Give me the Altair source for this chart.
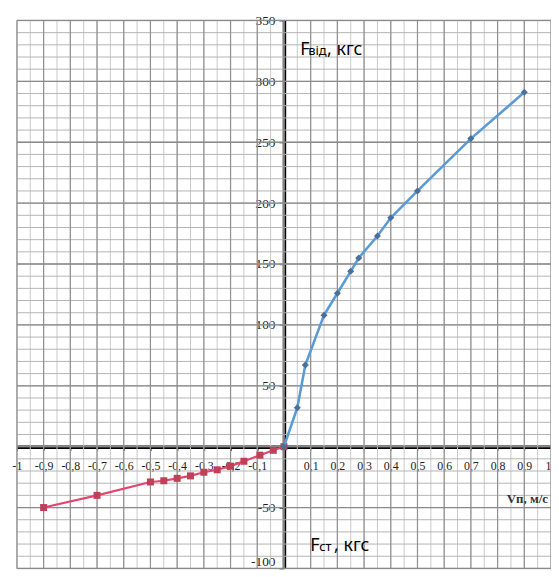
import altair as alt
import pandas as pd

# ---- data ----
blue_x = [0, 0.05, 0.08, 0.15, 0.2, 0.25, 0.28, 0.35, 0.4, 0.5, 0.7, 0.9]
blue_y = [0, 32, 67, 108, 126, 144, 155, 173, 188, 210, 253, 291]
red_x = [-0.9, -0.7, -0.5, -0.45, -0.4, -0.35, -0.3, -0.25, -0.2, -0.15, -0.09, -0.04, 0]
red_y = [-50, -40, -29, -28, -26, -24, -21, -19, -16, -12, -7, -3, 0]

x_ticks = [round(-1 + 0.1 * i, 1) for i in range(21)]
y_ticks = [-100, -50, 0, 50, 100, 150, 200, 250, 300, 350]

W, H = 539, 553
X_DOM = [-1, 1]
Y_DOM = [-100, 350]

xs = alt.Scale(domain=X_DOM, nice=False, zero=False)
ys = alt.Scale(domain=Y_DOM, nice=False, zero=False)

x_axis = alt.Axis(
    values=x_ticks, orient="bottom", offset=-H * 100 / 450, grid=False,
    domainColor="black", domainWidth=3.5, tickColor="#555", tickSize=4,
    labelFont="Liberation Serif", labelFontSize=12, labelColor="#222",
    labelPadding=10, labelFlush=False, labelOverlap=False,
    labelAlign={"condition": {"test": "datum.value >= 1", "value": "right"}, "value": "center"},
    labelExpr="datum.value == 0 ? '' : replace(toString(datum.value), '.', ',')",
    title=None,
)
y_axis = alt.Axis(
    values=y_ticks, orient="left", offset=-W / 2, grid=False,
    domainColor="black", domainWidth=3.5, tickColor="#555", tickSize=5,
    labelFont="Liberation Serif", labelFontSize=13.5, labelColor="#222",
    labelPadding=4, labelFlush=False, labelOverlap=False,
    labelBaseline={"condition": {"test": "datum.value <= -100", "value": "bottom"}, "value": "middle"},
    labelExpr="datum.value == 0 ? '' : toString(datum.value)",
    title=None,
)

X = alt.X("x:Q", scale=xs, axis=x_axis)
Y = alt.Y("y:Q", scale=ys, axis=y_axis)

blue = pd.DataFrame({"x": blue_x, "y": blue_y})
red = pd.DataFrame({"x": red_x, "y": red_y})

# grid lines (layout only)
gx_minor = pd.DataFrame({"x": [round(-1 + 0.05 * i, 2) for i in range(41)]})
gx_major = pd.DataFrame({"x": x_ticks})
gy_minor = pd.DataFrame({"y": list(range(-100, 351, 10))})
gy_major = pd.DataFrame({"y": y_ticks})

grid = alt.layer(
    alt.Chart(gx_minor).mark_rule(color="#c8c8c8", strokeWidth=1).encode(x=X),
    alt.Chart(gy_minor).mark_rule(color="#b4b4b4", strokeWidth=1).encode(y=Y),
    alt.Chart(gx_major).mark_rule(color="#909090", strokeWidth=1.2).encode(x=X),
    alt.Chart(gy_major).mark_rule(color="#8a8a8a", strokeWidth=1.3).encode(y=Y),
)

red_line = alt.Chart(red).mark_line(color="#e8456e", strokeWidth=2.2).encode(x=X, y=Y)
red_pts = alt.Chart(red).mark_point(shape="square", filled=True, color="#c0405a", size=50, opacity=1).encode(x=X, y=Y)
blue_line = alt.Chart(blue).mark_line(color="#5b9bd5", strokeWidth=2.6).encode(x=X, y=Y)
blue_pts = alt.Chart(blue).mark_point(shape="diamond", filled=True, color="#4a6f9a", size=50, opacity=1).encode(x=X, y=Y)

def txt(s, x, y, size, font="Noto Sans", weight="normal", align="left", color="black"):
    return alt.Chart(pd.DataFrame({"t": [s]})).mark_text(
        font=font, fontSize=size, fontWeight=weight, align=align, baseline="alphabetic", color=color
    ).encode(text="t:N", x=alt.value(x), y=alt.value(y))

labels = alt.layer(
    txt("F", 286, 35, 18),
    txt("від", 294, 35, 13),
    txt(", кгс", 313, 35, 18),
    txt("F", 296, 535, 18),
    txt("ст", 305, 535, 13),
    txt(", кгс", 320, 535, 18),
    txt("Vп, м/с", 536, 487, 13, font="Liberation Serif", weight="bold", align="right", color="#333"),
)

chart = alt.layer(grid, red_line, red_pts, blue_line, blue_pts, labels).properties(
    width=W, height=H,
    autosize=alt.AutoSizeParams(type="none"),
    padding={"left": 9, "top": 10, "right": 0, "bottom": 0},
).configure_view(stroke=None).configure(background="white")

chart.save("out.html", embed_options={"renderer": "svg", "actions": False})
